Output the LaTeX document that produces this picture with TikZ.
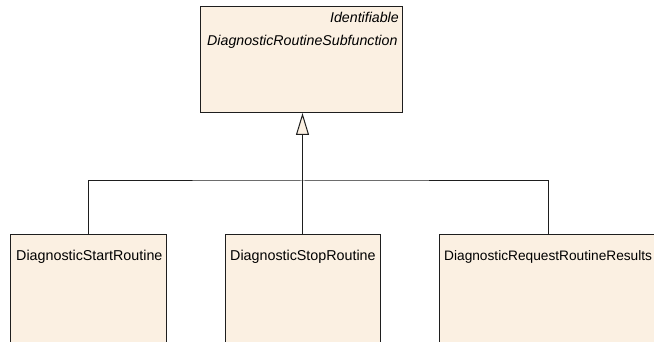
\documentclass[tikz,border=0pt]{standalone}
\usepackage{fontspec}
\setmainfont{Liberation Sans}
\definecolor{classfill}{RGB}{251,240,226}
\definecolor{classline}{RGB}{30,30,30}
\usetikzlibrary{arrows.meta,positioning}

\tikzset{
  classbox/.style={draw=classline, fill=classfill, line width=1pt, anchor=north west,
                   inner sep=0pt, outer sep=0pt},
  classname/.style={font=\fontsize{14.3}{17}\selectfont, inner sep=0pt, anchor=west},
  genline/.style={draw=classline, line width=1pt},
  inherits/.style={genline, -{Triangle[open, length=22pt, width=13pt, fill=classfill]}}
}

\begin{document}
\begin{tikzpicture}[x=1pt, y=-1pt]
  \useasboundingbox (0,0) rectangle (654,342);
  \clip (0,0) rectangle (654,342);

  % parent class
  \node[classbox, minimum width=202pt, minimum height=106pt] (sub) at (200,7) {};
  \node[classname, anchor=east, font=\fontsize{14.2}{17}\selectfont\itshape]
    (subster) at ([xshift=-3pt, yshift=-10pt]sub.north east) {Identifiable};
  \node[classname, font=\fontsize{14.2}{17}\selectfont\itshape]
    (subname) at ([xshift=7pt, yshift=-34.5pt]sub.north west) {DiagnosticRoutineSubfunction};

  % sub classes
  \node[classbox, minimum width=156pt, minimum height=120pt] (start) at (10,235) {};
  \node[classname] (startname) at ([xshift=6pt, yshift=-21.5pt]start.north west) {DiagnosticStartRoutine};

  \node[classbox, minimum width=155pt, minimum height=120pt] (stop) at (225,235) {};
  \node[classname] (stopname) at ([xshift=5pt, yshift=-21.5pt]stop.north west) {DiagnosticStopRoutine};

  \node[classbox, minimum width=218pt, minimum height=120pt] (req) at (439,235) {};
  \node[classname, font=\fontsize{13.7}{17}\selectfont] (reqname)
    at ([xshift=5pt, yshift=-21.5pt]req.north west) {DiagnosticRequestRoutineResults};

  % generalization
  \coordinate (bus) at (stop.north |- 0,181);
  \draw[genline] (start.north) |- (bus) -| (req.north);
  \draw[inherits] (stop.north) -- (stop.north |- sub.south);
\end{tikzpicture}
\end{document}
